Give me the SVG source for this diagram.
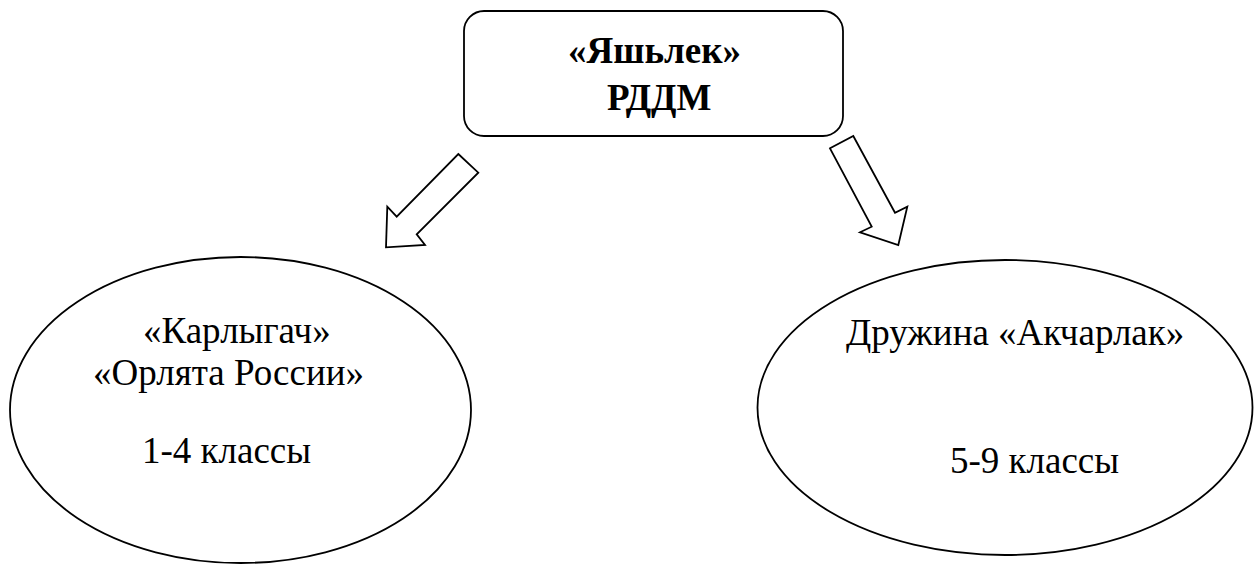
<svg xmlns="http://www.w3.org/2000/svg" width="1254" height="565" viewBox="0 0 1254 565">
<style>
.shape{fill:#fff;stroke:#000;stroke-width:1.8}
text{font-family:'Liberation Serif','Times New Roman','DejaVu Serif',serif;fill:#000}
.tb{font-size:37px;font-weight:bold}
.tr{font-size:37px}
</style>
<rect width="1254" height="565" fill="#fff"/>
<g id="node-root">
<rect class="shape" x="464" y="11" width="379" height="125" rx="20" ry="20" stroke-width="2"/>
<text class="tb" x="568" y="63">«Яшьлек»</text>
<text class="tb" x="607" y="110">РДДМ</text>
</g>
<g id="connectors">
<polygon class="shape" points="458.3,154 478.3,172.7 416.7,234.3 425,245 386,247.3 387.3,206.7 396.7,216.7"/>
<polygon class="shape" points="830,148.3 853.3,136 895,212.7 907.3,206.7 898.3,245 860,232.3 871.7,226.7"/>
</g>
<g id="node-left">
<ellipse class="shape" cx="240.5" cy="410" rx="230.5" ry="153"/>
<text class="tr" x="143" y="343">«Карлыгач»</text>
<text class="tr" x="93" y="385">«Орлята России»</text>
<text class="tr" x="142" y="463">1-4 классы</text>
</g>
<g id="node-right">
<ellipse class="shape" cx="1005" cy="407.5" rx="247.5" ry="147.5"/>
<text class="tr" x="846" y="345">Дружина «Акчарлак»</text>
<text class="tr" x="950" y="473">5-9 классы</text>
</g>
</svg>
